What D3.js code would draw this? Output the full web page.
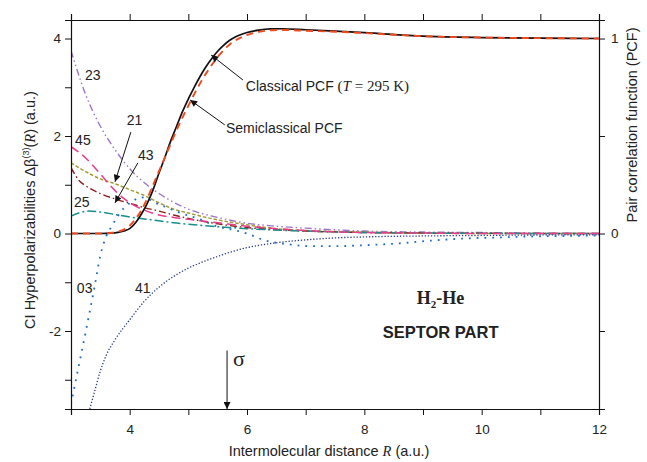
<!DOCTYPE html>
<html lang="en">
<head>
<meta charset="UTF-8">
<title>H2-He septor part</title>
<script src="https://cdn.jsdelivr.net/npm/d3@7"></script>
<style>
  body { margin: 0; background: #fff; }
  text { font-family: "Liberation Sans", Arial, sans-serif; fill: #222; }
</style>
</head>
<body>
<div id="chart"></div>
<script>
// ---- data ----
// hyperpolarizability components, left axis (a.u.)
const r23 = [3, 3.25, 3.5, 3.75, 4, 4.25, 4.5, 4.75, 5, 5.5, 6, 6.5, 7, 8, 9, 10, 11, 12];
const v23 = [3.75, 2.85, 2.2, 1.72, 1.33, 1.04, 0.82, 0.64, 0.5, 0.33, 0.21, 0.15, 0.11, 0.05, 0.03, 0.02, 0.01, 0];

const r45 = [3, 3.25, 3.5, 3.75, 4, 4.25, 4.5, 4.75, 5, 5.5, 6, 6.5, 7, 8, 9, 10, 12];
const v45 = [1.78, 1.55, 1.22, 0.88, 0.63, 0.48, 0.38, 0.33, 0.29, 0.22, 0.15, 0.1, 0.06, 0.02, 0.01, 0, 0];

const r21 = [3, 3.25, 3.5, 3.75, 4, 4.25, 4.5, 4.75, 5, 5.5, 6, 6.5, 7, 8, 9, 10, 12];
const v21 = [1.45, 1.27, 1.12, 1.02, 0.9, 0.78, 0.63, 0.5, 0.42, 0.28, 0.18, 0.1, 0.06, 0.03, 0.01, 0, 0];

const r43 = [3, 3.15, 3.25, 3.5, 3.75, 4, 4.25, 4.5, 4.75, 5, 5.5, 6, 6.5, 7, 8, 9, 12];
const v43 = [1.35, 1.07, 0.98, 0.82, 0.71, 0.62, 0.53, 0.46, 0.38, 0.31, 0.2, 0.12, 0.08, 0.05, 0.02, 0.01, 0];

const r25 = [3, 3.15, 3.3, 3.5, 3.75, 4, 4.25, 4.5, 4.75, 5, 5.5, 6, 6.5, 7, 8, 9, 12];
const v25 = [0.36, 0.43, 0.46, 0.44, 0.39, 0.34, 0.3, 0.26, 0.22, 0.19, 0.14, 0.1, 0.07, 0.05, 0.02, 0.01, 0];

const r03 = [3, 3.1, 3.2, 3.3, 3.4, 3.5, 3.6, 3.7, 3.8, 3.9, 4, 4.2, 4.5, 4.85, 5.2, 5.5, 5.75, 6, 6.3, 6.7, 7.1, 7.5, 8, 8.5, 9.2, 9.75, 10.3, 10.9, 11.5, 12];
const v03 = [-3.5, -2.9, -2.32, -1.72, -1.1, -0.45, -0.06, 0.16, 0.36, 0.52, 0.62, 0.74, 0.6, 0.43, 0.29, 0.14, 0.08, 0, -0.14, -0.22, -0.26, -0.26, -0.24, -0.21, -0.14, -0.1, -0.08, -0.06, -0.05, -0.04];

const r41 = [3.32, 3.4, 3.5, 3.6, 3.75, 4, 4.25, 4.5, 4.75, 5, 5.25, 5.5, 5.75, 6, 6.5, 7, 7.5, 8, 9, 10, 11, 12];
const v41 = [-3.6, -3.25, -2.82, -2.5, -2.18, -1.77, -1.39, -1.1, -0.88, -0.71, -0.58, -0.47, -0.37, -0.29, -0.19, -0.13, -0.09, -0.07, -0.05, -0.04, -0.03, -0.03];

// pair correlation functions, right axis
const rPcf = [3, 3.5, 3.7, 3.8, 3.9, 4, 4.1, 4.2, 4.3, 4.4, 4.5, 4.6, 4.7, 4.8, 4.9, 5, 5.1, 5.2, 5.3, 5.4, 5.5, 5.6, 5.7, 5.8, 5.9, 6, 6.2, 6.4, 6.6, 7, 7.5, 8, 9, 10, 11, 12];
const pcfClassical = [0, 0, 0.002, 0.006, 0.013, 0.025, 0.055, 0.1, 0.155, 0.225, 0.31, 0.39, 0.475, 0.55, 0.625, 0.69, 0.75, 0.805, 0.855, 0.898, 0.935, 0.965, 0.99, 1.008, 1.021, 1.031, 1.043, 1.049, 1.05, 1.045, 1.038, 1.03, 1.012, 1.005, 1.002, 1.0];
const pcfSemi = [0, 0, 0.004, 0.01, 0.02, 0.04, 0.075, 0.12, 0.18, 0.25, 0.32, 0.39, 0.46, 0.53, 0.595, 0.655, 0.715, 0.77, 0.82, 0.865, 0.905, 0.94, 0.968, 0.99, 1.006, 1.018, 1.034, 1.042, 1.044, 1.04, 1.035, 1.028, 1.012, 1.005, 1.002, 1.0];

const sigmaR = 5.66;

const xTicks = [3, 4, 5, 6, 7, 8, 9, 10, 11, 12];
const xLabels = [4, 6, 8, 10, 12];
const yTicks = [-3, -2, -1, 0, 1, 2, 3, 4];
const yLabels = [-2, 0, 2, 4];
const y2Ticks = [-0.5, 0, 0.5, 1];
const y2Labels = [0, 1];

// ---- layout ----
const margin = {top: 20, right: 48, bottom: 53, left: 71},
    width = 647 - margin.left - margin.right,
    height = 462 - margin.top - margin.bottom;

const x = d3.scaleLinear().domain([3, 12]).range([0, width]);
const y = d3.scaleLinear().domain([-3.6, 4.38]).range([height, 0]);
const y2 = d3.scaleLinear().domain([-3.6 / 4, 4.38 / 4]).range([height, 0]);

const svg = d3.select("#chart").append("svg")
    .attr("width", 647).attr("height", 462);

const defs = svg.append("defs");
defs.append("clipPath").attr("id", "clip")
    .append("rect").attr("width", width).attr("height", height);
defs.append("marker").attr("id", "arrow")
    .attr("viewBox", "0 0 10 10").attr("refX", 10).attr("refY", 5)
    .attr("markerWidth", 9).attr("markerHeight", 7)
    .attr("markerUnits", "userSpaceOnUse")
    .attr("orient", "auto")
    .append("path").attr("d", "M0,0 L10,5 L0,10 Z").attr("fill", "#111");

const g = svg.append("g").attr("transform", "translate(" + margin.left + "," + margin.top + ")");

const series = [
    {r: r23, v: v23, color: "#9d74c9", dash: "7,3,1.5,3,1.5,3", w: 1.4},
    {r: r21, v: v21, color: "#a19b35", dash: "3.5,2", w: 1.5},
    {r: r43, v: v43, color: "#8e1f1a", dash: "7,3,1.5,3", w: 1.4},
    {r: r25, v: v25, color: "#168f8c", dash: "9,3,2,3", w: 1.5},
    {r: r45, v: v45, color: "#ea3c8c", dash: "9,5", w: 1.5},
    {r: r41, v: v41, color: "#2c3c8e", dash: "1.3,1.8", w: 1.3},
    {r: r03, v: v03, color: "#1e6cc6", dash: "1.8,6", w: 1.8}
];

const line = d3.line()
    .x(d => x(d[0]))
    .y(d => y(d[1]))
    .curve(d3.curveMonotoneX);

const lines = g.append("g").attr("clip-path", "url(#clip)");

series.forEach(s => {
    lines.append("path")
        .datum(s.r.map((r, i) => [r, s.v[i]]))
        .attr("d", line)
        .attr("fill", "none")
        .attr("stroke", s.color)
        .attr("stroke-width", s.w)
        .attr("stroke-dasharray", s.dash);
});

const pcfLine = d3.line()
    .x(d => x(d[0]))
    .y(d => y2(d[1]))
    .curve(d3.curveMonotoneX);

lines.append("path")
    .datum(rPcf.map((r, i) => [r, pcfClassical[i]]))
    .attr("d", pcfLine)
    .attr("fill", "none").attr("stroke", "#111").attr("stroke-width", 1.7);

lines.append("path")
    .datum(rPcf.map((r, i) => [r, pcfSemi[i]]))
    .attr("d", pcfLine)
    .attr("fill", "none").attr("stroke", "#f04b1f").attr("stroke-width", 1.9)
    .attr("stroke-dasharray", "7,5");

// ---- axes ----
function styleAxis(a) {
    a.select(".domain").attr("stroke", "#111").attr("stroke-width", 1.2);
    a.selectAll(".tick line").attr("stroke", "#111").attr("stroke-width", 1);
    a.selectAll(".tick text")
        .attr("font-size", 13.5)
        .attr("font-family", "Liberation Sans, Arial, sans-serif")
        .attr("fill", "#222");
}

const xAxisB = g.append("g").attr("transform", "translate(0," + height + ")")
    .call(d3.axisBottom(x).tickValues(xTicks).tickSizeOuter(0).tickSize(6).tickPadding(9)
        .tickFormat(d => xLabels.includes(d) ? d : ""));
styleAxis(xAxisB);

const xAxisT = g.append("g")
    .call(d3.axisTop(x).tickValues(xTicks).tickSizeOuter(0).tickSize(6).tickFormat(""));
styleAxis(xAxisT);

const yAxisL = g.append("g")
    .call(d3.axisLeft(y).tickValues(yTicks).tickSizeOuter(0).tickSize(6).tickPadding(4)
        .tickFormat(d => yLabels.includes(d) ? d : ""));
styleAxis(yAxisL);

const yAxisR = g.append("g").attr("transform", "translate(" + width + ",0)")
    .call(d3.axisRight(y2).tickValues(y2Ticks).tickSizeOuter(0).tickSize(6).tickPadding(6)
        .tickFormat(d => y2Labels.includes(d) ? d : ""));
styleAxis(yAxisR);

// ---- axis titles ----
const xTitle = svg.append("text")
    .attr("x", margin.left + width / 2 - 6).attr("y", 456)
    .attr("text-anchor", "middle").attr("font-size", 14.5);
xTitle.append("tspan").text("Intermolecular distance ");
xTitle.append("tspan").text("R").attr("font-style", "italic").style("font-family", "Liberation Serif, Times New Roman, serif");
xTitle.append("tspan").text(" (a.u.)");

const yTitle = svg.append("text")
    .attr("transform", "translate(35,210) rotate(-90)")
    .attr("text-anchor", "middle").attr("font-size", 14.5);
yTitle.append("tspan").text("CI Hyperpolarizabilities Δβ");
yTitle.append("tspan").text("(3)").attr("font-size", 9).attr("dy", -6);
yTitle.append("tspan").text("(").attr("dy", 6);
yTitle.append("tspan").text("R").attr("font-style", "italic").style("font-family", "Liberation Serif, Times New Roman, serif");
yTitle.append("tspan").text(") (a.u.)");

svg.append("text")
    .attr("transform", "translate(637,125) rotate(-90)")
    .attr("text-anchor", "middle").attr("font-size", 14.5)
    .text("Pair correlation function (PCF)");

// ---- annotations ----
const labels = [
    {t: "23", r: 3.24, v: 3.25},
    {t: "45", r: 3.07, v: 1.92},
    {t: "21", r: 3.95, v: 2.33},
    {t: "43", r: 4.14, v: 1.61},
    {t: "25", r: 3.05, v: 0.65},
    {t: "03", r: 3.1, v: -1.12},
    {t: "41", r: 4.09, v: -1.12}
];
labels.forEach(l => {
    g.append("text").attr("x", x(l.r)).attr("y", y(l.v)).attr("dy", "0.35em")
        .attr("font-size", 14).text(l.t);
});

const arrows = [
    {r0: 4.02, v0: 2.08, r1: 3.75, v1: 1.06},
    {r0: 4.14, v0: 1.45, r1: 3.75, v1: 0.63},
    {r0: 5.93, v0: 3.15, r1: 5.39, v1: 3.66},
    {r0: 5.62, v0: 2.23, r1: 5.03, v1: 2.74}
];
arrows.forEach(a => {
    g.append("line")
        .attr("x1", x(a.r0)).attr("y1", y(a.v0))
        .attr("x2", x(a.r1)).attr("y2", y(a.v1))
        .attr("stroke", "#111").attr("stroke-width", 1)
        .attr("marker-end", "url(#arrow)");
});

const cl = g.append("text").attr("x", x(5.98)).attr("y", y(3.02)).attr("dy", "0.35em").attr("font-size", 14);
cl.append("tspan").text("Classical PCF ");
cl.append("tspan").text("(").style("font-family", "Liberation Serif, Times New Roman, serif").attr("font-size", 15);
cl.append("tspan").text("T").attr("font-style", "italic").style("font-family", "Liberation Serif, Times New Roman, serif").attr("font-size", 15);
cl.append("tspan").text(" = 295 K)").style("font-family", "Liberation Serif, Times New Roman, serif").attr("font-size", 15);

g.append("text").attr("x", x(5.64)).attr("y", y(2.17)).attr("dy", "0.35em")
    .attr("font-size", 14).text("Semiclassical PCF");

// sigma marker
g.append("line")
    .attr("x1", x(sigmaR)).attr("y1", y(-2.4))
    .attr("x2", x(sigmaR)).attr("y2", height)
    .attr("stroke", "#111").attr("stroke-width", 1)
    .attr("marker-end", "url(#arrow)");
g.append("text").attr("x", x(sigmaR) + 6).attr("y", y(-2.55)).attr("dy", "0.35em")
    .attr("font-size", 22).style("font-family", "Liberation Serif, Times New Roman, serif").text("σ");

// system title
const h2 = g.append("text").attr("x", x(9.3)).attr("y", y(-1.45))
    .attr("text-anchor", "middle").attr("font-size", 18).attr("font-weight", "bold")
    .style("font-family", "Liberation Serif, Times New Roman, serif");
h2.append("tspan").text("H");
h2.append("tspan").text("2").attr("font-size", 11).attr("dy", 4);
h2.append("tspan").text("-He").attr("dy", -4);

g.append("text").attr("x", x(9.3)).attr("y", y(-2.15))
    .attr("text-anchor", "middle").attr("font-size", 16.5).attr("font-weight", "bold")
    .text("SEPTOR PART");
</script>
</body>
</html>
